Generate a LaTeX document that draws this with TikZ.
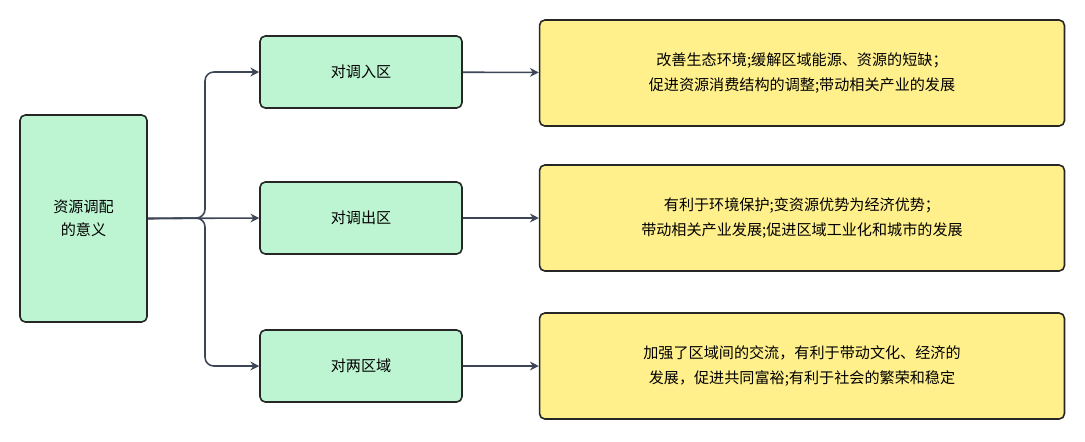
\documentclass[tikz,border=0pt]{standalone}
\usepackage{fontspec}
\setmainfont{Noto Sans CJK SC}
\usetikzlibrary{arrows.meta,positioning}
\definecolor{gfill}{HTML}{BDF5D2}
\definecolor{yfill}{HTML}{FFF08C}
\definecolor{linkc}{HTML}{3C4656}
\tikzset{
  gbox/.style={draw=black!85, fill=gfill, rounded corners=3pt, line width=0.9pt, align=center, font=\fontsize{8.6}{13}\selectfont},
  ybox/.style={draw=black!85, fill=yfill, rounded corners=3pt, line width=0.9pt, align=center, font=\fontsize{8.6}{14}\selectfont, minimum width=10.5cm, minimum height=2.12cm},
  link/.style={draw=linkc, line width=0.9pt, -{Stealth[length=5pt,width=5pt]}}
}
\begin{document}
\begin{tikzpicture}[x=0.02cm,y=-0.02cm]
  \useasboundingbox (0,0) rectangle (1085,441);
%
  \node[gbox, minimum width=2.54cm, minimum height=4.14cm] (root) at (83.5,218.5) {资源调配\\的意义};
  \node[gbox, minimum width=4.04cm, minimum height=1.44cm] (inA) at (361,72) {对调入区};
  \node[gbox, minimum width=4.04cm, minimum height=1.44cm] (outA) at (361,218) {对调出区};
  \node[gbox, minimum width=4.04cm, minimum height=1.44cm] (both) at (361,366) {对两区域};
%
  \node[ybox] (rA) at (802,73) {改善生态环境;缓解区域能源、资源的短缺；\\促进资源消费结构的调整;带动相关产业的发展};
  \node[ybox] (rB) at (802,218) {有利于环境保护;变资源优势为经济优势；\\带动相关产业发展;促进区域工业化和城市的发展};
  \node[ybox] (rC) at (802,366) {加强了区域间的交流，有利于带动文化、经济的\\发展，促进共同富裕;有利于社会的繁荣和稳定};
%
  \coordinate (fork) at (205,218);
  \draw[link] (root.east) -- (outA.west);
  \draw[link, rounded corners=5pt] (root.east) -- (fork) |- (inA.west);
  \draw[link, rounded corners=5pt] (root.east) -- (fork) |- (both.west);
%
  \draw[link] (inA) -- (rA);
  \draw[link] (outA) -- (rB);
  \draw[link] (both) -- (rC);
\end{tikzpicture}
\end{document}
